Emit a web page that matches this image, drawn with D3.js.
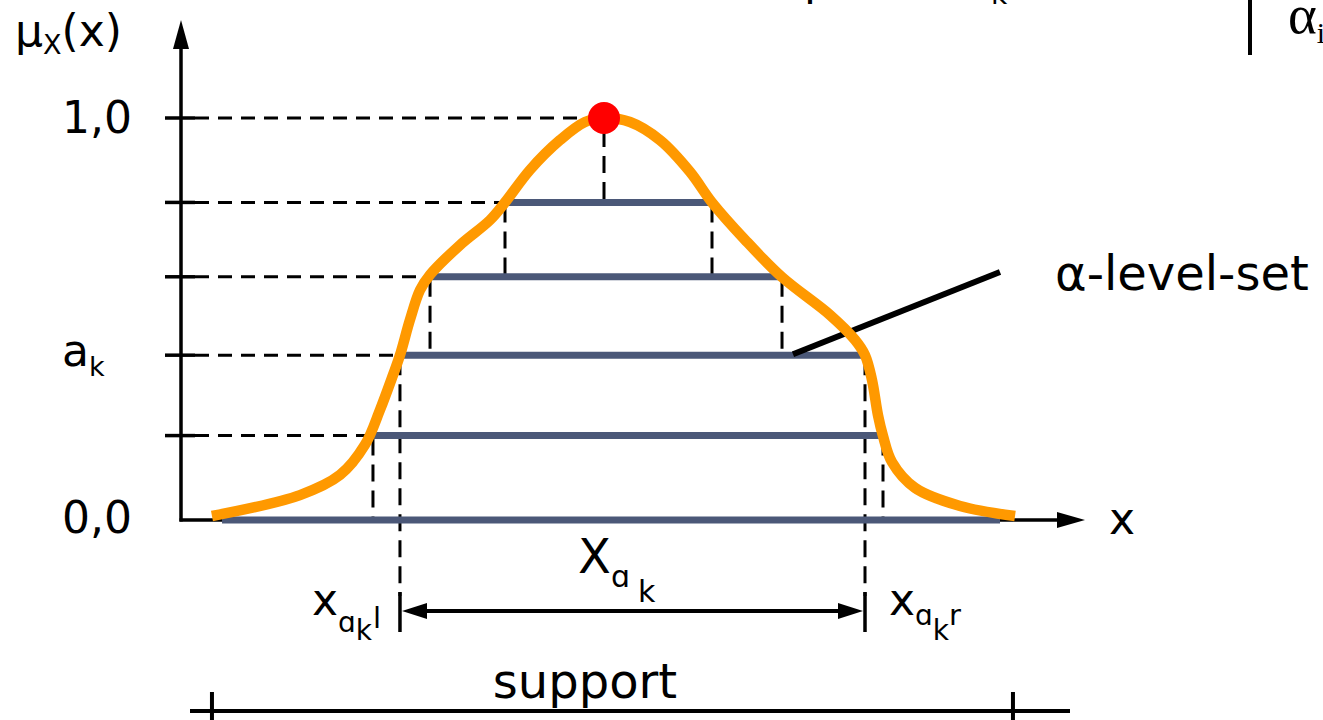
<!DOCTYPE html>
<html>
<head>
<meta charset="utf-8">
<script src="https://cdn.jsdelivr.net/npm/d3@7"></script>
<style>
  body { margin: 0; background: #ffffff; }
  svg { display: block; }
  text { font-family: 'DejaVu Sans', Verdana, sans-serif; fill: #000000; }
</style>
</head>
<body>
<div id="chart"></div>
<script>
/*********** data ***********/
// membership curve (x in arbitrary units, mu in [0, 1])
const curveX = [3.44, 13.22, 17.67, 20.44, 22.11, 23.56, 24.33, 25.44, 26.56, 27.67, 31.0, 34.33, 36.0, 38.78, 42.11, 44.89, 47.0,
  49.89, 53.22, 56.56, 59.0, 62.67, 66.78, 72.11, 74.89, 76.0, 76.78, 77.44, 78.0, 79.0, 81.56, 86.56, 92.67]
const curveMu = [0.01, 0.062, 0.112, 0.187, 0.274, 0.361, 0.41, 0.498, 0.572, 0.61, 0.684, 0.746, 0.79, 0.871, 0.945, 0.99, 1.0,
  0.99, 0.945, 0.866, 0.79, 0.697, 0.604, 0.51, 0.448, 0.41, 0.348, 0.261, 0.209, 0.144, 0.08, 0.035, 0.01]

// alpha-level sets: level, left end, right end
const levels = [0, 0.21, 0.41, 0.605, 0.79]
const levelLeft = [4.56, 21.33, 24.33, 27.67, 36.0]
const levelRight = [91.0, 78.0, 76.0, 66.78, 59.0]

const peakX = 47.0
const peakMu = 1.0

const tickValues = [0, 0.21, 0.41, 0.605, 0.79, 1.0]
const akLevel = 0.41
const supportRange = [3.44, 92.44]

/*********** scales ***********/
const width = 1323
const height = 720

const xScale = d3.scaleLinear().domain([0, 100]).range([181, 1081])
const yScale = d3.scaleLinear().domain([0, 1]).range([520, 118])

const svg = d3.select('#chart').append('svg')
  .attr('width', width)
  .attr('height', height)

const x0 = xScale(0)
const yBase = yScale(0)

/*********** dashed helper lines ***********/
const dash = '14,9'
const g = svg.append('g')

// horizontal dashes from the axis to the left end of each level
levels.forEach((lv, i) => {
  if (lv === 0) return
  g.append('line')
    .attr('x1', x0 + 14).attr('x2', xScale(levelLeft[i]))
    .attr('y1', yScale(lv)).attr('y2', yScale(lv))
    .attr('stroke', '#000').attr('stroke-width', 3)
    .attr('stroke-dasharray', dash)
})
g.append('line')
  .attr('x1', x0 + 14).attr('x2', xScale(peakX) - 12)
  .attr('y1', yScale(peakMu)).attr('y2', yScale(peakMu))
  .attr('stroke', '#000').attr('stroke-width', 3)
  .attr('stroke-dasharray', dash)

// vertical dashes below each level's ends
const vDash = (xv, top, bottom) => {
  g.append('line')
    .attr('x1', xScale(xv)).attr('x2', xScale(xv))
    .attr('y1', top).attr('y2', bottom)
    .attr('stroke', '#000').attr('stroke-width', 3)
    .attr('stroke-dasharray', '17,9')
}
vDash(peakX, yScale(peakMu) + 12, yScale(0.79) - 3)
for (let i = 1; i < levels.length; i++) {
  const below = i === 2 ? 596 : yScale(levels[i - 1])
  vDash(levelLeft[i], yScale(levels[i]) + 3, below)
  vDash(levelRight[i], yScale(levels[i]) + 3, below)
}

/*********** axes ***********/
const axes = svg.append('g')
axes.append('line')
  .attr('x1', x0).attr('x2', x0)
  .attr('y1', yBase + 1.5).attr('y2', 40)
  .attr('stroke', '#000').attr('stroke-width', 3.5)
axes.append('line')
  .attr('x1', x0 - 1.5).attr('x2', 1065)
  .attr('y1', yBase).attr('y2', yBase)
  .attr('stroke', '#000').attr('stroke-width', 3.5)
axes.append('path')
  .attr('d', `M${x0},20 L${x0 - 8},49 L${x0 + 8},49 Z`)
axes.append('path')
  .attr('d', `M1085,${yBase} L1057,${yBase - 8} L1057,${yBase + 8} Z`)

// crossing ticks on the y axis
axes.selectAll('.tick')
  .data(tickValues.filter(d => d > 0))
  .enter().append('line')
  .attr('class', 'tick')
  .attr('x1', x0 - 16).attr('x2', x0 + 14)
  .attr('y1', d => yScale(d)).attr('y2', d => yScale(d))
  .attr('stroke', '#000').attr('stroke-width', 3.5)

/*********** level bars ***********/
svg.append('g').selectAll('line')
  .data(levels)
  .enter().append('line')
  .attr('x1', (d, i) => xScale(levelLeft[i]))
  .attr('x2', (d, i) => xScale(levelRight[i]))
  .attr('y1', d => yScale(d)).attr('y2', d => yScale(d))
  .attr('stroke', '#4b5878').attr('stroke-width', 7)

// pointer for the label
svg.append('line')
  .attr('x1', 793).attr('y1', yScale(akLevel) - 1)
  .attr('x2', 1000).attr('y2', 272)
  .attr('stroke', '#000').attr('stroke-width', 6)

/*********** membership curve ***********/
const line = d3.line()
  .x(d => xScale(d[0]))
  .y(d => yScale(d[1]))
  .curve(d3.curveCatmullRom.alpha(0.5))

svg.append('path')
  .datum(curveX.map((d, i) => [d, curveMu[i]]))
  .attr('d', line)
  .attr('fill', 'none')
  .attr('stroke', '#ff9900')
  .attr('stroke-width', 10.5)

svg.append('circle')
  .attr('cx', xScale(peakX)).attr('cy', yScale(peakMu))
  .attr('r', 16)
  .attr('fill', '#ff0000')

/*********** interval arrow and support ***********/
const xl = xScale(levelLeft[2])
const xr = xScale(levelRight[2])
const ya = 611
svg.append('line')
  .attr('x1', xl + 10).attr('x2', xr - 10)
  .attr('y1', ya).attr('y2', ya)
  .attr('stroke', '#000').attr('stroke-width', 4)
svg.append('path').attr('d', `M${xl + 2},${ya} L${xl + 27},${ya - 8} L${xl + 27},${ya + 8} Z`)
svg.append('path').attr('d', `M${xr - 2},${ya} L${xr - 27},${ya - 8} L${xr - 27},${ya + 8} Z`)
;[xl, xr].forEach(xv => {
  svg.append('line')
    .attr('x1', xv).attr('x2', xv)
    .attr('y1', 592).attr('y2', 632)
    .attr('stroke', '#000').attr('stroke-width', 3.5)
})

const ys = 711
svg.append('line')
  .attr('x1', 190).attr('x2', 1070)
  .attr('y1', ys).attr('y2', ys)
  .attr('stroke', '#000').attr('stroke-width', 4)
supportRange.forEach(v => {
  svg.append('line')
    .attr('x1', xScale(v)).attr('x2', xScale(v))
    .attr('y1', 692).attr('y2', 722)
    .attr('stroke', '#000').attr('stroke-width', 4)
})

/*********** labels ***********/
const big = 44
const sub = 28

const t1 = svg.append('text').attr('x', 15).attr('y', 46).attr('font-size', big)
t1.append('tspan').text('μ')
t1.append('tspan').attr('font-size', 27).attr('dy', 8).text('X')
t1.append('tspan').attr('dy', -8).text('(x)')

svg.append('text').attr('x', 62).attr('y', yScale(1) + 15).attr('font-size', big).text('1,0')
svg.append('text').attr('x', 62).attr('y', yScale(0) + 13).attr('font-size', big).text('0,0')
const ak = svg.append('text').attr('x', 62).attr('y', yScale(akLevel) + 11).attr('font-size', big)
ak.append('tspan').text('a')
ak.append('tspan').attr('font-size', 27).attr('dy', 10).text('k')

svg.append('text').attr('x', 1109).attr('y', 534).attr('font-size', big).text('x')

svg.append('text').attr('x', 1055).attr('y', 290).attr('font-size', 48).text('α-level-set')

// X_{alpha k}
const xa = svg.append('text').attr('x', 578).attr('y', 573).attr('font-size', 48)
xa.append('tspan').text('X')
xa.append('tspan').attr('font-size', 30).attr('dy', 14).text('ɑ')
xa.append('tspan').attr('font-size', 30).attr('dx', 8).attr('dy', 15).text('k')

const lft = svg.append('text').attr('x', 312).attr('y', 615).attr('font-size', big)
lft.append('tspan').text('x')
lft.append('tspan').attr('font-size', sub).attr('dy', 17).text('ɑ')
lft.append('tspan').attr('font-size', sub).attr('dy', 8).text('k')
lft.append('tspan').attr('font-size', 29).attr('dx', 1).attr('dy', -12).text('l')

const rgt = svg.append('text').attr('x', 889).attr('y', 615).attr('font-size', big)
rgt.append('tspan').text('x')
rgt.append('tspan').attr('font-size', sub).attr('dy', 10).text('ɑ')
rgt.append('tspan').attr('font-size', sub).attr('dy', 15).text('k')
rgt.append('tspan').attr('font-size', 29).attr('dy', -15).text('r')

svg.append('text').attr('x', 585).attr('y', 698).attr('font-size', 48)
  .attr('text-anchor', 'middle').text('support')

/*********** fragments cut by the top edge ***********/
svg.append('text').attr('x', 804).attr('y', -5).attr('font-size', big).text('p')
svg.append('text').attr('x', 991).attr('y', 4).attr('font-size', sub).text('k')
svg.append('line')
  .attr('x1', 1250).attr('x2', 1250).attr('y1', 0).attr('y2', 55)
  .attr('stroke', '#000').attr('stroke-width', 4)
const ai = svg.append('text').attr('x', 1288).attr('y', 33)
  .attr('font-size', 55).style('font-family', '"Liberation Serif", serif')
ai.append('tspan').text('α')
ai.append('tspan').attr('font-size', 30).attr('dy', 10).text('i')
</script>
</body>
</html>
